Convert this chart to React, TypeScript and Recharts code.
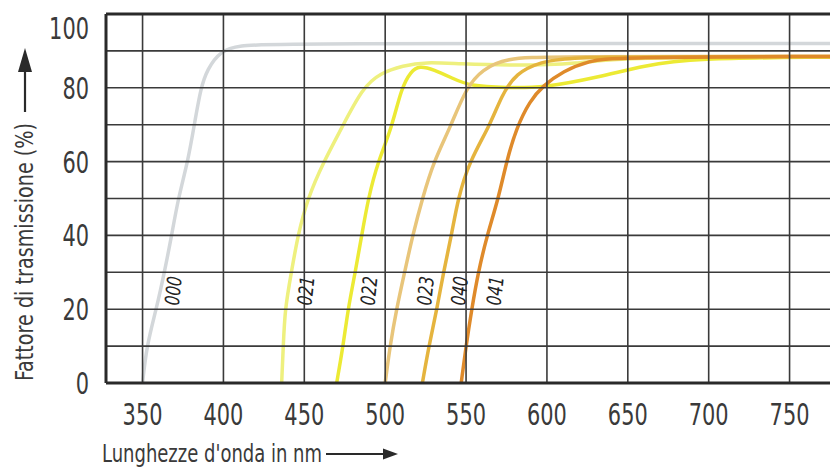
import React from 'react';
import { LineChart, Line, XAxis, YAxis, ReferenceLine, ReferenceDot } from 'recharts';

// filter codes, one curve each
const filterNames = ['000', '021', '022', '023', '040', '041'];
const filterColors = ['#d3d7da', '#eef07e', '#ecea34', '#e8c57a', '#e5b43e', '#df8a2a'];

// wavelength (nm) / transmission (%)
const wl000 = [350, 352.5, 358.5, 363.5, 368, 372, 378, 382, 386, 390, 398, 410, 430, 775];
const tr000 = [0, 10, 20, 30, 40, 50, 60, 70, 80, 85, 90, 91.5, 92, 92];

const wl021 = [436, 437, 438, 442, 446, 452, 462, 473, 486, 497, 511, 525, 545, 580, 620, 645, 775];
const tr021 = [0, 10, 20, 30, 40, 50, 60, 69, 80, 84, 86, 87, 86.5, 86, 86.5, 88.3, 88.3];

const wl022 = [470, 474, 477, 481.5, 485.5, 489.5, 495.5, 504, 510, 516, 521, 530, 542, 552, 575, 598, 633, 660, 690, 775];
const tr022 = [0, 10, 20, 30, 40, 50, 60, 69, 80, 84.5, 86, 85, 82.5, 80.5, 80, 80, 83, 86, 88, 88.3];

const wl023 = [500, 503, 507, 512, 517, 523, 530, 540, 550, 560, 575, 600, 775];
const tr023 = [0, 10, 20, 30, 40, 50, 60, 69, 80, 85, 88, 88.5, 88.5];

const wl040 = [523, 527, 532, 536, 541, 545, 552, 565, 572, 581, 596, 615, 775];
const tr040 = [0, 10, 20, 30, 40, 50, 60, 70, 78, 84, 87, 88.5, 88.5];

const wl041 = [547, 550, 553.5, 557.5, 563, 570, 575, 581, 589.5, 597.5, 610, 626.5, 641, 775];
const tr041 = [0, 10, 20, 30, 40, 50, 60, 69, 76.5, 80.5, 84.6, 87.3, 88.3, 88.5];

// where the code labels sit along each curve
const labelWl = [369, 451, 490, 525, 546, 568];
const labelTr = [25, 25, 25, 25, 25, 25];

const xTicks = [350, 400, 450, 500, 550, 600, 650, 700, 750];
const yTicks = [0, 20, 40, 60, 80, 100];
const yGrid = [10, 20, 30, 40, 50, 60, 70, 80, 90];

const wlList = [wl000, wl021, wl022, wl023, wl040, wl041];
const trList = [tr000, tr021, tr022, tr023, tr040, tr041];

const series = filterNames.map((name, i) => ({
  name,
  color: filterColors[i],
  data: wlList[i].map((x, j) => ({ x, y: trList[i][j] })),
}));

const FONT = "'Liberation Sans Narrow', 'DejaVu Sans Condensed', sans-serif";
const INK = '#2a2a2a';
const DIGIT_W = 13.3; // condensed digits in the original

const XTick = ({ x, y, payload }: any) => {
  const s = String(payload.value);
  return (
    <text x={x} y={y + 42} textAnchor="middle" fontFamily={FONT} fontSize={30} fill="#3a3a3a"
      textLength={s.length * DIGIT_W} lengthAdjust="spacingAndGlyphs">
      {s}
    </text>
  );
};

const YTick = ({ x, y, payload }: any) => {
  const s = String(payload.value);
  return (
    <text x={x - 17} y={y + (payload.value === 100 ? 25 : 11)} textAnchor="end" fontFamily={FONT} fontSize={30} fill="#3a3a3a"
      textLength={s.length * DIGIT_W} lengthAdjust="spacingAndGlyphs">
      {s}
    </text>
  );
};

const CodeLabel = (name: string) => (p: any) => (
  <text
    x={p.cx}
    y={p.cy}
    transform={`rotate(-84 ${p.cx} ${p.cy})`}
    textAnchor="middle"
    dominantBaseline="central"
    fontFamily={FONT}
    fontStyle="italic"
    fontSize={20}
    fill="#222"
    textLength={29}
    lengthAdjust="spacingAndGlyphs"
  >
    {name}
  </text>
);

export default function App() {
  return (
    <div style={{ position: 'absolute', left: 0, top: 0, width: 830, height: 473, background: '#fff', overflow: 'hidden' }}>
      <LineChart width={830} height={473} margin={{ top: 14, right: 0, bottom: 0, left: 0 }}>
        <XAxis
          type="number"
          dataKey="x"
          domain={[327.4, 775]}
          ticks={xTicks}
          allowDataOverflow
          tickLine={false}
          tickSize={0}
          tickMargin={0}
          height={90}
          axisLine={{ stroke: INK, strokeWidth: 3 }}
          tick={<XTick />}
        />
        <YAxis
          type="number"
          dataKey="y"
          domain={[0, 100]}
          ticks={yTicks}
          allowDataOverflow
          tickLine={false}
          tickSize={0}
          tickMargin={0}
          width={106}
          axisLine={{ stroke: INK, strokeWidth: 3 }}
          tick={<YTick />}
        />
        {series.map((s) => (
          <Line
            key={s.name}
            data={s.data}
            dataKey="y"
            type="basis"
            stroke={s.color}
            strokeWidth={3.5}
            dot={false}
            activeDot={false}
            isAnimationActive={false}
          />
        ))}
        {xTicks.map((v) => (
          <ReferenceLine key={`vx-${v}`} x={v} stroke="#3a3a3a" strokeWidth={1.6} />
        ))}
        {yGrid.map((v) => (
          <ReferenceLine key={`hy-${v}`} y={v} stroke="#3a3a3a" strokeWidth={1.6} />
        ))}
        <ReferenceLine y={100} stroke={INK} strokeWidth={3} />
        {filterNames.map((name, i) => (
          <ReferenceDot key={`lb-${name}`} x={labelWl[i]} y={labelTr[i]} r={0} shape={CodeLabel(name)} />
        ))}
      </LineChart>
      <svg width={830} height={473} style={{ position: 'absolute', left: 0, top: 0, pointerEvents: 'none' }}>
        <text
          x={33}
          y={252}
          transform="rotate(-90 33 252)"
          textAnchor="middle"
          fontFamily={FONT}
          fontSize={24}
          fill="#3a3a3a"
          textLength={258}
          lengthAdjust="spacingAndGlyphs"
        >
          Fattore di trasmissione (%)
        </text>
        <line x1={25} y1={112} x2={25} y2={70} stroke={INK} strokeWidth={2.2} />
        <polygon points="18,72 32,72 25,48" fill={INK} />
        <text
          x={102}
          y={462}
          fontFamily={FONT}
          fontSize={24}
          fill="#3a3a3a"
          textLength={220}
          lengthAdjust="spacingAndGlyphs"
        >
          Lunghezze d'onda in nm
        </text>
        <line x1={326} y1={454} x2={386} y2={454} stroke={INK} strokeWidth={2.2} />
        <polygon points="383,448.5 383,459.5 398,454" fill={INK} />
      </svg>
    </div>
  );
}
